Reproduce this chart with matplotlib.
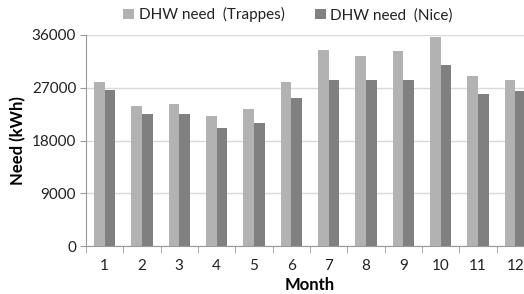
import matplotlib
matplotlib.use("Agg")
import matplotlib.pyplot as plt
import numpy as np
from matplotlib.ticker import FixedLocator

months = ["1", "2", "3", "4", "5", "6", "7", "8", "9", "10", "11", "12"]
trappes = [27900, 23850, 24200, 22150, 23350, 28050, 33400, 32500, 33300, 35600, 29000, 28300]
nice = [26550, 22500, 22600, 20200, 20950, 25200, 28400, 28300, 28400, 30900, 25950, 26500]
series_names = ["DHW need  (Trappes)", "DHW need  (Nice)"]
yticks = [0, 9000, 18000, 27000, 36000]

plt.rcParams['font.family'] = ['Lato', 'DejaVu Sans']

fig = plt.figure(figsize=(5.24, 2.94), dpi=100)
ax = fig.add_axes([0.164, 0.163, 0.855, 0.718])

x = np.arange(len(months))
w = 0.285
c1, c2 = "#b2b2b2", "#808080"
ax.bar(x - w / 2, trappes, w, color=c1, label=series_names[0], zorder=3)
ax.bar(x + w / 2, nice, w, color=c2, label=series_names[1], zorder=3)

ax.set_xlim(-0.5, len(months) - 0.5)
ax.set_ylim(0, 36000)
ax.set_yticks(yticks)
ax.set_yticklabels([str(v) for v in yticks])
ax.set_xticks(x)
ax.set_xticklabels(months)
ax.xaxis.set_minor_locator(FixedLocator(np.arange(-0.5, len(months), 1.0)))
ax.tick_params(axis='x', which='major', length=0, labelsize=11, pad=9, colors='#222222')
ax.tick_params(axis='x', which='minor', length=5, color='#999999', direction='out')
ax.tick_params(axis='y', length=4, color='#999999', labelsize=11, pad=3, labelcolor='#222222')

ax.grid(axis='y', color='#d9d9d9', linewidth=1, zorder=0)
for s in ['top', 'right']:
    ax.spines[s].set_visible(False)
ax.spines['left'].set_color('#999999')
ax.spines['bottom'].set_color('#999999')

ax.set_ylabel("Need (kWh)", fontsize=12, fontweight='bold', labelpad=4)
ax.set_xlabel("Month", fontsize=12, fontweight='bold', labelpad=3)

fig.legend(loc='center', bbox_to_anchor=(0.55, 0.95), ncol=2, frameon=False,
           fontsize=11, handlelength=0.7, handleheight=0.7, handletextpad=0.3,
           columnspacing=2.0, labelcolor='#222222')

fig.savefig("out.png", dpi=100)
